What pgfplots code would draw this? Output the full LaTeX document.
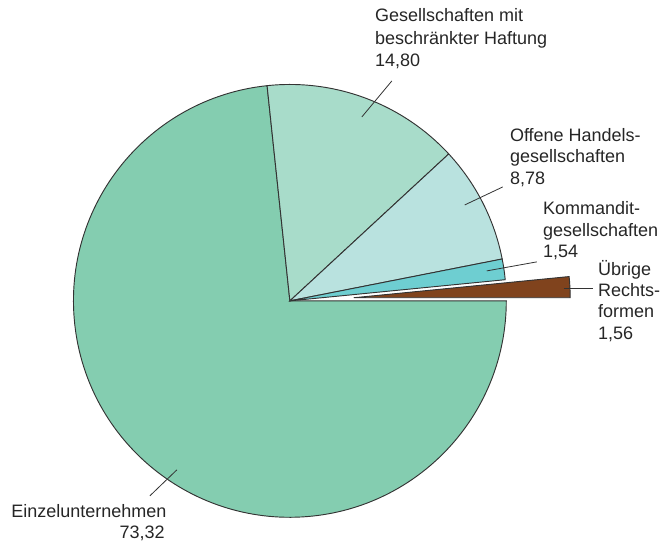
\documentclass[border=0pt]{standalone}
\usepackage{pgfplots}
\usepackage{pgfplotstable}
\usepackage{fontspec}
\setmainfont{Liberation Sans}
\pgfplotsset{compat=1.18}

\definecolor{cEinzel}{HTML}{84CDB0}
\definecolor{cGmbH}{HTML}{A8DCCA}
\definecolor{cOHG}{HTML}{B9E2DF}
\definecolor{cKG}{HTML}{6ECED1}
\definecolor{cUbr}{HTML}{80431D}
\definecolor{cEdge}{HTML}{333333}

% shares in percent, counter-clockwise from 0 degrees
\pgfplotstableread{
share name
1.56 Ubrige
1.54 KG
8.78 OHG
14.80 GmbH
73.32 Einzel
}\piedata

\pgfplotstablegetelem{0}{share}\of\piedata \let\vA\pgfplotsretval
\pgfplotstablegetelem{1}{share}\of\piedata \let\vB\pgfplotsretval
\pgfplotstablegetelem{2}{share}\of\piedata \let\vC\pgfplotsretval
\pgfplotstablegetelem{3}{share}\of\piedata \let\vD\pgfplotsretval
\pgfplotstablegetelem{4}{share}\of\piedata \let\vE\pgfplotsretval
\pgfmathsetmacro\aA{3.6*\vA}
\pgfmathsetmacro\aB{\aA+3.6*\vB}
\pgfmathsetmacro\aC{\aB+3.6*\vC}
\pgfmathsetmacro\aD{\aC+3.6*\vD}
\pgfmathsetmacro\aE{\aD+3.6*\vE}
\pgfmathsetmacro\aMid{\aA/2}
\def\R{162.375pt}% 216.5 px

\tikzset{lbl/.style={font=\fontsize{13.5}{16}\selectfont, inner sep=0pt, text=black!85}}

\begin{document}
\begin{tikzpicture}
\begin{axis}[
  x=0.75pt, y=0.75pt,
  xmin=0, xmax=660, ymin=0, ymax=546,
  hide axis, clip=false,
]
\path (axis cs:0,0) rectangle (axis cs:660,546);
% slices
\filldraw[fill=cEinzel, draw=cEdge, line width=0.7pt] (axis cs:290,245) -- ++(\aD:\R) arc[start angle=\aD, end angle=\aE, radius=\R] -- cycle;
\filldraw[fill=cGmbH, draw=cEdge, line width=0.7pt] (axis cs:290,245) -- ++(\aC:\R) arc[start angle=\aC, end angle=\aD, radius=\R] -- cycle;
\filldraw[fill=cOHG, draw=cEdge, line width=0.7pt] (axis cs:290,245) -- ++(\aB:\R) arc[start angle=\aB, end angle=\aC, radius=\R] -- cycle;
\filldraw[fill=cKG, draw=cEdge, line width=0.7pt] (axis cs:290,245) -- ++(\aA:\R) arc[start angle=\aA, end angle=\aB, radius=\R] -- cycle;
\filldraw[fill=cUbr, draw=cEdge, line width=0.7pt] (axis cs:290,245) ++(\aMid:48pt) -- ++(0:\R) arc[start angle=0, end angle=\aA, radius=\R] -- cycle;
% leader lines
\draw[cEdge, line width=0.6pt] (axis cs:362,429) -- (axis cs:392,465);
\draw[cEdge, line width=0.6pt] (axis cs:465,341) -- (axis cs:503,359);
\draw[cEdge, line width=0.6pt] (axis cs:487,275) -- (axis cs:537,284);
\draw[cEdge, line width=0.6pt] (axis cs:564,257) -- (axis cs:593,257);
\draw[cEdge, line width=0.6pt] (axis cs:150,50) -- (axis cs:177,76);
% labels
\node[lbl, anchor=base west] at (axis cs:375,524) {Gesellschaften mit};
\node[lbl, anchor=base west] at (axis cs:375,501) {beschränkter Haftung};
\node[lbl, anchor=base west] at (axis cs:375,479) {14,80};
\node[lbl, anchor=base west] at (axis cs:510,404) {Offene Handels-};
\node[lbl, anchor=base west] at (axis cs:510,383) {gesellschaften};
\node[lbl, anchor=base west] at (axis cs:510,361) {8,78};
\node[lbl, anchor=base west] at (axis cs:543,331) {Kommandit-};
\node[lbl, anchor=base west] at (axis cs:543,309) {gesellschaften};
\node[lbl, anchor=base west] at (axis cs:543,288) {1,54};
\node[lbl, anchor=base west] at (axis cs:598,270) {Übrige};
\node[lbl, anchor=base west] at (axis cs:598,249) {Rechts-};
\node[lbl, anchor=base west] at (axis cs:598,228) {formen};
\node[lbl, anchor=base west] at (axis cs:598,206) {1,56};
\node[lbl, anchor=base west] at (axis cs:11,28) {Einzelunternehmen};
\node[lbl, anchor=base east] at (axis cs:165,7) {73,32};
\end{axis}
\end{tikzpicture}
\end{document}
